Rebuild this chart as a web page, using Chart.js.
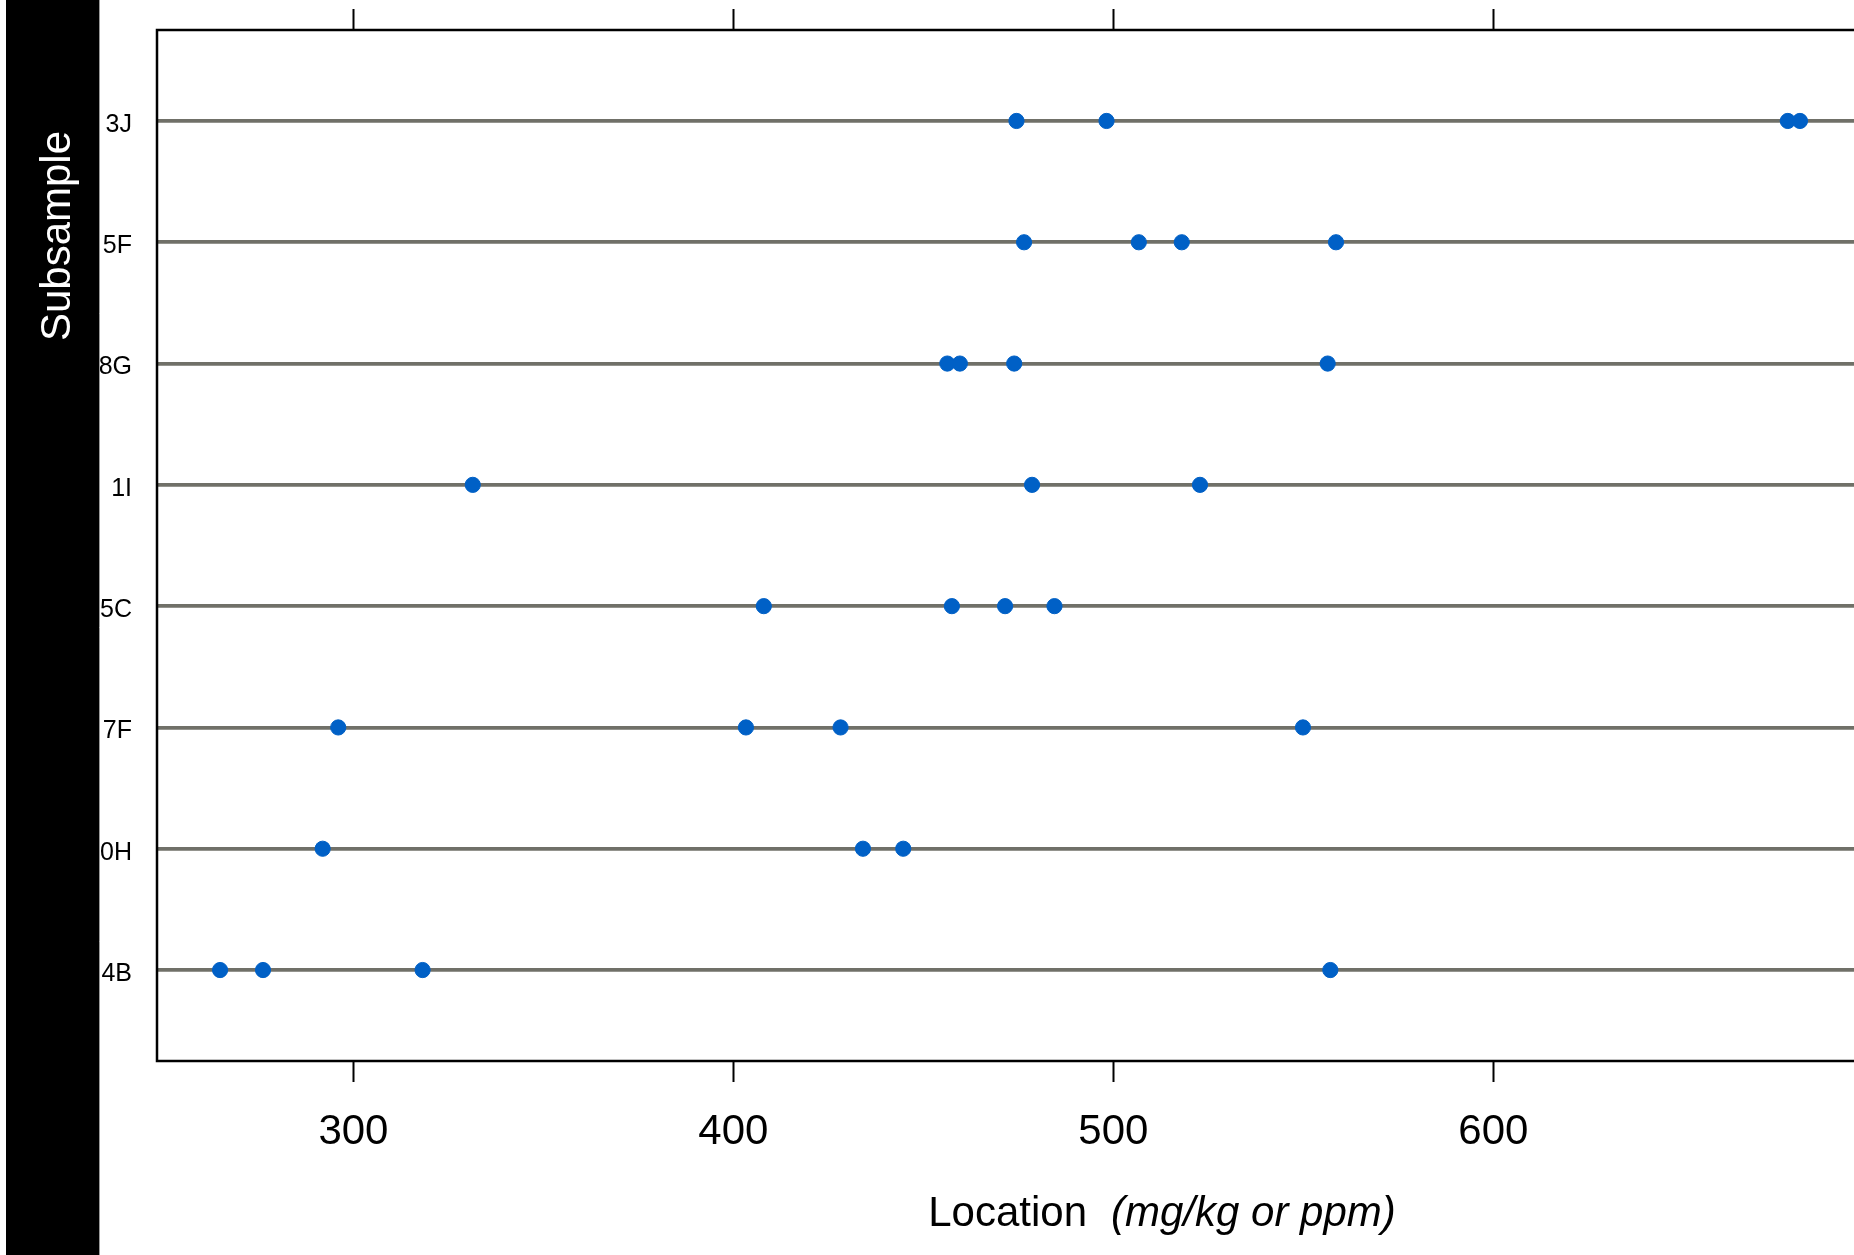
<!DOCTYPE html>
<html>
<head>
<meta charset="utf-8">
<title>Subsample locations</title>
<script src="https://cdn.jsdelivr.net/npm/chart.js@4.4.1/dist/chart.umd.min.js"></script>
<style>
  html, body { margin: 0; padding: 0; background: #ffffff; overflow: hidden; }
  #wrap { position: absolute; left: 0; top: 0; width: 1854px; height: 1255px; overflow: hidden; }
  #chart { position: absolute; left: 0; top: 0; }
</style>
</head>
<body>
<div id="wrap"><canvas id="chart" width="2200" height="1255"></canvas></div>
<script>
// Subsample rows, top to bottom
const subsamples = ['3J', '5F', '8G', '1I', '5C', '7F', '0H', '4B'];

// Measured locations (mg/kg) for each subsample
const loc3J = [474.5, 498.2, 677.5, 680.7];
const loc5F = [476.5, 506.7, 518.0, 558.6];
const loc8G = [456.3, 459.6, 473.9, 556.4];
const loc1I = [331.4, 478.6, 522.8];
const loc5C = [408.0, 457.5, 471.5, 484.5];
const loc7F = [296.0, 403.3, 428.2, 549.9];
const loc0H = [291.9, 434.1, 444.7];
const loc4B = [264.9, 276.2, 318.2, 557.1];

// Location axis ticks and range
const xTickValues = [300, 400, 500, 600];
const xMin = 248.3;
const xMax = 777.3;

const rowValues = [loc3J, loc5F, loc8G, loc1I, loc5C, loc7F, loc0H, loc4B];
const points = [];
rowValues.forEach((vals, row) => vals.forEach(v => points.push({ x: v, y: row })));

const FONT = "'Liberation Sans', Arial, Helvetica, sans-serif";

// Black strip with the rotated "Subsample" label on the left
const stripPlugin = {
  id: 'strip',
  beforeDraw(chart) {
    const ctx = chart.ctx;
    ctx.save();
    ctx.fillStyle = '#ffffff';
    ctx.fillRect(0, 0, chart.width, chart.height);
    ctx.fillStyle = '#000000';
    ctx.fillRect(6, 0, 93, chart.height);
    ctx.strokeStyle = '#9a9a9a';
    ctx.lineWidth = 1;
    ctx.beginPath();
    ctx.moveTo(99.5, 0);
    ctx.lineTo(99.5, chart.height);
    ctx.stroke();
    ctx.translate(70, 236);
    ctx.rotate(-Math.PI / 2);
    ctx.fillStyle = '#ffffff';
    ctx.font = '42px ' + FONT;
    ctx.textAlign = 'center';
    ctx.textBaseline = 'alphabetic';
    ctx.fillText('Subsample', 0, 0);
    ctx.restore();
  }
};

// Frame round the panel and the x-axis title with its italic unit
const framePlugin = {
  id: 'frame',
  afterDraw(chart) {
    const { ctx, chartArea: a } = chart;
    ctx.save();
    ctx.strokeStyle = '#000000';
    ctx.lineWidth = 2.5;
    ctx.strokeRect(a.left, a.top, a.right - a.left, a.bottom - a.top);

    const main = 'Location';
    const unit = '(mg/kg or ppm)';
    const gap = 24;
    ctx.font = '42px ' + FONT;
    const w1 = ctx.measureText(main).width;
    ctx.font = 'italic 42px ' + FONT;
    const w2 = ctx.measureText(unit).width;
    const cx = (a.left + a.right) / 2;
    let x = cx - (w1 + gap + w2) / 2;
    const y = 1226;
    ctx.fillStyle = '#000000';
    ctx.textAlign = 'left';
    ctx.textBaseline = 'alphabetic';
    ctx.font = '42px ' + FONT;
    ctx.fillText(main, x, y);
    ctx.font = 'italic 42px ' + FONT;
    ctx.fillText(unit, x + w1 + gap, y);
    ctx.restore();
  }
};

const noSidePad = s => { s.paddingLeft = 0; s.paddingRight = 0; };

new Chart(document.getElementById('chart'), {
  type: 'scatter',
  data: {
    datasets: [{
      data: points,
      pointRadius: 7.6,
      pointHoverRadius: 7.6,
      pointBackgroundColor: '#0060c6',
      pointBorderColor: '#0060c6',
      pointBorderWidth: 1,
      borderColor: '#0060c6'
    }]
  },
  options: {
    responsive: false,
    animation: false,
    devicePixelRatio: 1,
    layout: { padding: { left: 100, top: 9, right: 33, bottom: 0 } },
    plugins: { legend: { display: false }, tooltip: { enabled: false } },
    scales: {
      x: {
        type: 'linear',
        position: 'bottom',
        min: xMin,
        max: xMax,
        afterBuildTicks: s => { s.ticks = xTickValues.map(v => ({ value: v })); },
        afterFit: s => { s.height = 194; noSidePad(s); },
        border: { display: false },
        grid: { drawOnChartArea: false, drawTicks: true, tickLength: 21, tickColor: '#000000', tickWidth: 2 },
        ticks: { color: '#000000', font: { family: FONT, size: 42 }, padding: 25, maxRotation: 0 }
      },
      x2: {
        type: 'linear',
        position: 'top',
        min: xMin,
        max: xMax,
        afterBuildTicks: s => { s.ticks = xTickValues.map(v => ({ value: v })); },
        afterFit: s => { s.height = 21; noSidePad(s); },
        border: { display: false },
        grid: { drawOnChartArea: false, drawTicks: true, tickLength: 21, tickColor: '#000000', tickWidth: 2 },
        ticks: { display: false }
      },
      y: {
        type: 'linear',
        reverse: true,
        min: -0.75,
        max: subsamples.length - 0.25,
        afterBuildTicks: s => { s.ticks = subsamples.map((_, i) => ({ value: i })); },
        afterFit: s => { s.width = 57; s.paddingTop = 0; s.paddingBottom = 0; },
        border: { display: false },
        grid: { color: '#707068', lineWidth: 3.8, drawTicks: false },
        ticks: {
          color: '#000000',
          font: { family: FONT, size: 25 },
          padding: 25,
          labelOffset: 4,
          callback: v => subsamples[v]
        }
      }
    }
  },
  plugins: [stripPlugin, framePlugin]
});
</script>
</body>
</html>
